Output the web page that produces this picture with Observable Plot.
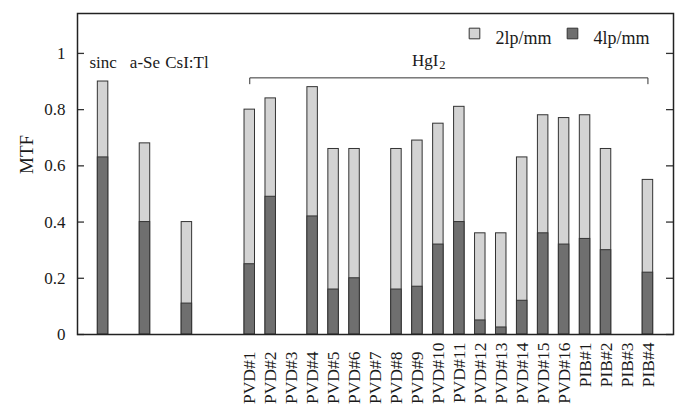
<!DOCTYPE html>
<html>
<head>
<meta charset="utf-8">
<script src="https://cdn.jsdelivr.net/npm/d3@7"></script>
<script src="https://cdn.jsdelivr.net/npm/@observablehq/plot@0.6"></script>
<style>
  html, body { margin: 0; padding: 0; background: #fff; }
</style>
</head>
<body>
<div id="chart"></div>
<script>
// ---- data ----
const samples = ["sinc", "a-Se", "CsI:Tl",
  "PVD#1", "PVD#2", "PVD#3", "PVD#4", "PVD#5", "PVD#6", "PVD#7", "PVD#8",
  "PVD#9", "PVD#10", "PVD#11", "PVD#12", "PVD#13", "PVD#14", "PVD#15", "PVD#16",
  "PIB#1", "PIB#2", "PIB#3", "PIB#4"];
const mtf2lp = [0.90, 0.68, 0.40,
  0.80, 0.84, null, 0.88, 0.66, 0.66, null, 0.66,
  0.69, 0.75, 0.81, 0.36, 0.36, 0.63, 0.78, 0.77,
  0.78, 0.66, null, 0.55];
const mtf4lp = [0.63, 0.40, 0.11,
  0.25, 0.49, null, 0.42, 0.16, 0.20, null, 0.16,
  0.17, 0.32, 0.40, 0.05, 0.025, 0.12, 0.36, 0.32,
  0.34, 0.30, null, 0.22];
const series = ["2lp/mm", "4lp/mm"];
const seriesColors = ["#d3d3d3", "#6f6f6f"];
const refLabels = ["sinc", "a-Se", "CsI:Tl"];
const hgi2Labels = samples.slice(3);
const shortLabels = hgi2Labels.slice(0, 9);   // PVD#1 … PVD#9
const longLabels = hgi2Labels.slice(9);       // PVD#10 … PIB#4
const yTicks = [0, 0.2, 0.4, 0.6, 0.8, 1];

// x domain with empty spacer slots
const xDomain = ["sinc", "_g1", "a-Se", "_g2", "CsI:Tl", "_g3", "_g4", ...hgi2Labels];

const rows2 = samples.map((s, i) => ({sample: s, value: mtf2lp[i]})).filter(d => d.value != null);
const rows4 = samples.map((s, i) => ({sample: s, value: mtf4lp[i]})).filter(d => d.value != null);
const tickRows = yTicks.map(v => ({v}));
const bracket = [
  {x: hgi2Labels[0], y: 0.892},
  {x: hgi2Labels[0], y: 0.913},
  {x: hgi2Labels[hgi2Labels.length - 1], y: 0.913},
  {x: hgi2Labels[hgi2Labels.length - 1], y: 0.892}
];

const font = "Liberation Serif, Times New Roman, serif";

const chart = Plot.plot({
  width: 690,
  height: 420,
  marginLeft: 77,
  marginRight: 17,
  marginTop: 13,
  marginBottom: 86,
  style: {fontFamily: font, fontSize: "17px", background: "#fff", color: "#1a1a1a"},
  x: {type: "band", domain: xDomain, paddingInner: 0.5, paddingOuter: 0.97, round: false, axis: null},
  y: {domain: [0, 1.142], axis: null},
  marks: [
    Plot.barY(rows2, {x: "sample", y: "value", fill: seriesColors[0], stroke: "#333", strokeWidth: 1}),
    Plot.barY(rows4, {x: "sample", y: "value", fill: seriesColors[1], stroke: "#333", strokeWidth: 1}),
    // inward tick marks on left and right frame edges
    Plot.ruleY(tickRows, {y: "v", insetRight: 589, stroke: "#333", strokeWidth: 1.3}),
    Plot.ruleY(tickRows, {y: "v", insetLeft: 589, stroke: "#333", strokeWidth: 1.3}),
    Plot.axisY({anchor: "left", ticks: yTicks, tickSize: 0, tickPadding: 12, tickFormat: d => String(d), fontSize: 17}),
    Plot.axisX({anchor: "bottom", ticks: shortLabels, tickRotate: -90, tickSize: 0, tickPadding: 17, fontSize: 17.5}),
    Plot.axisX({anchor: "bottom", ticks: longLabels, tickRotate: -90, tickSize: 0, tickPadding: 8, fontSize: 17.5}),
    Plot.text(["MTF"], {frameAnchor: "left", dx: -51, rotate: -90, fontSize: 19}),
    Plot.text(refLabels, {x: d => d, y: 0.968, fontSize: 17}),
    Plot.line(bracket, {x: "x", y: "y", stroke: "#333", strokeWidth: 1}),
    Plot.text(["HgI"], {x: () => "PVD#10", y: 0.975, textAnchor: "end", dx: 0, fontSize: 17}),
    Plot.text(["2"], {x: () => "PVD#10", y: 0.975, textAnchor: "start", dx: 1, dy: 5, fontSize: 12.5}),
    // legend
    Plot.dot([series[0]], {frameAnchor: "top-right", dx: -199, dy: 20, symbol: "square", r: 6, fill: seriesColors[0], stroke: "#333", strokeWidth: 1}),
    Plot.text([series[0]], {frameAnchor: "top-right", dx: -178, dy: 18, textAnchor: "start", fontSize: 18}),
    Plot.dot([series[1]], {frameAnchor: "top-right", dx: -101, dy: 20, symbol: "square", r: 6, fill: seriesColors[1], stroke: "#333", strokeWidth: 1}),
    Plot.text([series[1]], {frameAnchor: "top-right", dx: -80, dy: 18, textAnchor: "start", fontSize: 18}),
    Plot.frame({stroke: "#222", strokeWidth: 1.5})
  ]
});
document.getElementById("chart").appendChild(chart);
</script>
</body>
</html>
